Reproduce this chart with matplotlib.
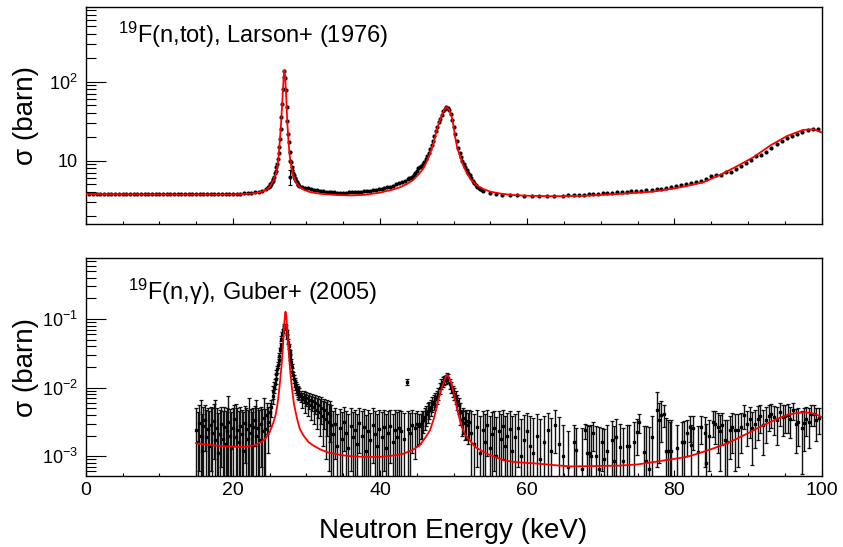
import numpy as np
import matplotlib
matplotlib.use('Agg')
import matplotlib.pyplot as plt
from matplotlib.ticker import MultipleLocator, LogLocator, NullFormatter

plt.rcParams['font.family'] = ['Liberation Sans', 'DejaVu Sans']
plt.rcParams['mathtext.fontset'] = 'custom'
plt.rcParams['mathtext.rm'] = 'Liberation Sans'
plt.rcParams['mathtext.it'] = 'Liberation Sans:italic'
plt.rcParams['mathtext.default'] = 'regular'

# ---- 19F(n,tot), Larson+ (1976): data (barn) ----
tot_e_flat = [0.5, 1.0, 1.5, 2.0, 2.5, 3.0, 3.5, 4.0, 4.5, 5.0, 5.5, 6.0, 6.5, 7.0, 7.5, 8.0,
              8.5, 9.0, 9.5, 10.0, 10.5, 11.0, 11.5, 12.0, 12.5, 13.0, 13.5, 14.0, 14.5, 15.0,
              15.5, 16.0, 16.5, 17.0, 17.5, 18.0, 18.5, 19.0, 19.5, 20.0, 20.5, 21.0, 21.5,
              22.0, 22.5, 23.0, 23.5, 24.0, 24.5]
tot_y_flat = [3.80, 3.79, 3.81, 3.80, 3.78, 3.79, 3.80, 3.78, 3.77, 3.79, 3.78, 3.77, 3.78,
              3.76, 3.77, 3.78, 3.76, 3.77, 3.76, 3.78, 3.77, 3.76, 3.78, 3.77, 3.76, 3.77,
              3.78, 3.76, 3.77, 3.78, 3.77, 3.76, 3.78, 3.77, 3.78, 3.79, 3.78, 3.79, 3.80,
              3.80, 3.81, 3.83, 3.85, 3.88, 3.92, 3.98, 4.06, 4.18, 4.40]
tot_e_pk1 = [24.8, 24.9, 25.0, 25.1, 25.2, 25.3, 25.4, 25.5, 25.6, 25.7, 25.8, 25.9, 26.0,
             26.1, 26.2, 26.3, 26.4, 26.5, 26.6, 26.7, 26.8, 26.9, 27.0, 27.1, 27.2, 27.3,
             27.4, 27.5, 27.6, 27.7, 27.8, 27.9, 28.0, 28.1, 28.2, 28.3, 28.4, 28.5, 28.6,
             28.7, 28.8, 28.9, 29.0]
tot_y_pk1 = [4.6, 4.7, 4.8, 5.0, 5.1, 5.4, 5.6, 5.9, 6.3, 6.9, 7.4, 8.3, 9.2, 10.5, 12.5, 15,
             19, 25, 36, 52, 80, 115, 138, 110, 78, 48, 32, 22, 17, 13, 10.0, 9.5, 8.3, 7.6,
             7.0, 6.5, 6.1, 5.8, 5.5, 5.3, 5.1, 4.95, 4.85]
tot_e_mid = [29.4, 29.8, 30.2, 30.6, 31.0, 31.4, 31.8, 32.2, 32.6, 33.0, 33.4, 33.8, 34.2,
             34.6, 35.0, 35.4, 35.8, 36.2, 36.6, 37.0, 37.4, 37.8, 38.2, 38.6, 39.0, 39.4,
             39.8, 40.2, 40.6, 41.0, 41.4, 41.8, 42.2, 42.6, 43.0, 43.4, 43.8]
tot_y_mid = [4.7, 4.55, 4.45, 4.35, 4.25, 4.2, 4.12, 4.08, 4.03, 4.0, 3.98, 3.96, 3.95, 3.94,
             3.95, 3.95, 3.96, 3.98, 4.0, 4.02, 4.05, 4.08, 4.12, 4.17, 4.22, 4.28, 4.34,
             4.4, 4.5, 4.58, 4.68, 4.8, 5.0, 5.15, 5.35, 5.6, 5.9]
tot_e_pk2 = [44.0, 44.2, 44.4, 44.6, 44.8, 45.0, 45.2, 45.4, 45.6, 45.8, 46.0, 46.2, 46.4,
             46.6, 46.8, 47.0, 47.2, 47.4, 47.6, 47.8, 48.0, 48.2, 48.4, 48.6, 48.8, 49.0,
             49.2, 49.4, 49.6, 49.8, 50.0, 50.2, 50.4, 50.6, 50.8, 51.0, 51.2, 51.4, 51.6,
             51.8, 52.0, 52.2, 52.4, 52.6, 52.8, 53.0, 53.2, 53.4, 53.6, 53.8, 54.0]
tot_y_pk2 = [6.0, 6.1, 6.3, 6.6, 7.0, 7.5, 8.0, 8.3, 8.6, 9.0, 9.6, 10.4, 11.4, 12.6, 14.0,
             15.8, 18.0, 20.5, 23.5, 27, 30.5, 34, 38, 42, 45.5, 47.5, 47, 44, 39, 33, 27,
             21.5, 17.5, 14.5, 12.5, 11.0, 10.0, 9.2, 8.4, 7.6, 7.0, 6.5, 6.0, 5.6, 5.2, 4.9,
             4.65, 4.5, 4.35, 4.25, 4.15]
tot_e_high = [55.0, 55.8, 56.6, 57.6, 58.6, 59.5, 60.6, 61.6, 62.7, 63.7, 64.8, 65.6, 66.3,
              67.0, 67.7, 68.4, 69.0, 69.6, 70.3, 70.9, 71.5, 72.2, 72.9, 73.5, 74.1, 74.8,
              75.4, 76.1, 76.9, 77.6, 78.2, 78.9, 79.6, 80.2, 80.9, 81.6, 82.3, 82.9, 83.6,
              84.3, 85.0, 85.6, 86.3, 87.0, 87.7, 88.4, 89.0, 89.7, 90.4, 91.1, 91.8, 92.5,
              93.2, 93.9, 94.6, 95.3, 96.0, 96.7, 97.4, 98.1, 98.8, 99.5]
tot_y_high = [3.9, 3.78, 3.72, 3.66, 3.64, 3.62, 3.60, 3.58, 3.60, 3.58, 3.62, 3.66, 3.68,
              3.70, 3.72, 3.76, 3.80, 3.82, 3.87, 3.89, 3.94, 3.98, 4.02, 4.06, 4.10, 4.14,
              4.18, 4.22, 4.28, 4.36, 4.44, 4.55, 4.66, 4.76, 4.88, 5.0, 5.15, 5.33, 5.55,
              5.92, 6.4, 6.6, 6.55, 7.26, 7.2, 7.9, 8.65, 9.3, 10.2, 11.5, 11.8, 13.0, 14.4,
              16.3, 17.7, 19.2, 20.6, 21.8, 23.3, 24.5, 25.4, 25.4]
tot_rel_err = 0.025
tot_odd_e = [27.75]
tot_odd_y = [6.3]
tot_odd_err = [1.4]

# fit curve, total
tot_fit_e = [0, 5, 10, 15, 20, 22, 23, 24, 24.5, 25, 25.5, 25.8, 26.0, 26.2, 26.4, 26.55,
             26.7, 26.8, 26.9, 27.0, 27.1, 27.2, 27.3, 27.4, 27.55, 27.7, 27.9, 28.2, 28.5,
             29.0, 29.6, 30.5, 32, 34, 36, 38, 40, 41.5, 42.7, 43.7, 44.5, 45.3, 45.9, 46.4,
             46.8, 47.3, 47.7, 48.1, 48.4, 48.7, 49.05, 49.4, 49.75, 50.0, 50.2, 50.5, 50.9,
             51.3, 51.8, 52.4, 53.1, 54, 55, 56.5, 58, 60, 63.6, 68, 72.6, 77, 80, 82, 84,
             86.2, 88.5, 90.7, 93, 95.3, 97.5, 98.9, 100]
tot_fit_y = [3.78, 3.76, 3.74, 3.73, 3.74, 3.80, 3.88, 4.05, 4.25, 4.7, 5.6, 6.7, 7.8, 11,
             19, 30, 52, 78, 112, 140, 115, 80, 50, 30, 18, 12, 8.8, 6.6, 5.5, 4.7, 4.3,
             4.0, 3.8, 3.68, 3.63, 3.7, 3.94, 4.25, 4.6, 5.1, 5.7, 6.8, 8.0, 10, 12.4, 17,
             24.5, 32, 37.8, 44, 48, 44, 36, 27, 20, 14.5, 11.2, 8.8, 6.9, 5.7, 4.9, 4.4,
             4.05, 3.82, 3.68, 3.6, 3.55, 3.6, 3.8, 4.05, 4.45, 4.85, 5.35, 6.6, 8.5, 11.0,
             15.5, 20.5, 24.5, 25.0, 22.8]

# ---- 19F(n,gamma), Guber+ (2005): data in 1e-3 barn ----
cap_e1 = [15.0, 15.2, 15.4, 15.6, 15.8, 16.0, 16.2, 16.4, 16.6, 16.8, 17.0, 17.2, 17.4, 17.6,
          17.8, 18.0, 18.2, 18.4, 18.6, 18.8, 19.0, 19.2, 19.4, 19.6, 19.8, 20.0, 20.2, 20.4,
          20.6, 20.8, 21.0, 21.2, 21.4, 21.6, 21.8, 22.0, 22.2, 22.4, 22.6, 22.8, 23.0, 23.2,
          23.4, 23.6, 23.8, 24.0, 24.2, 24.4, 24.6, 24.8, 25.0, 25.2]
cap_y1 = [2.4, 1.6, 3.1, 2.0, 1.2, 2.8, 3.4, 1.9, 2.5, 1.4, 2.9, 2.2, 3.3, 1.7, 2.6, 1.1, 2.1,
          3.0, 1.8, 2.7, 1.5, 2.3, 3.2, 2.0, 1.3, 2.6, 3.5, 1.9, 2.4, 1.6, 2.8, 2.1, 1.2, 3.1,
          2.5, 1.8, 2.9, 2.2, 1.4, 2.7, 3.4, 2.0, 2.6, 1.7, 3.0, 2.3, 3.6, 2.5, 4.0, 3.2, 4.4,
          5.2]
cap_d1 = [2.6, 2.8, 2.5, 4.5, 3.0, 2.4, 2.2, 2.9, 2.6, 3.1, 2.3, 2.8, 2.4, 4.8, 2.5, 3.2, 2.7,
          2.3, 2.8, 2.6, 3.0, 2.7, 4.4, 2.9, 3.1, 2.5, 2.1, 3.9, 2.6, 3.0, 2.4, 2.7, 3.2, 2.3,
          2.5, 2.9, 4.2, 2.7, 3.0, 2.4, 2.0, 4.6, 2.5, 3.0, 2.3, 2.6, 3.5, 2.4, 1.9, 2.1, 1.6,
          1.5]
cap_e2 = [25.4, 25.5, 25.6, 25.7, 25.8, 25.9, 26.0, 26.1, 26.2, 26.3, 26.4, 26.5, 26.6, 26.7,
          26.8, 26.9, 27.0, 27.1, 27.2, 27.3, 27.4, 27.5, 27.6, 27.7, 27.8, 27.9, 28.0, 28.1,
          28.2, 28.3, 28.4, 28.5, 28.6, 28.7, 28.8, 28.9, 29.0]
cap_y2 = [7.5, 8.8, 10.3, 11.5, 13.5, 16, 18.5, 21.5, 25, 29, 35, 42, 52, 60, 68, 75, 80, 81,
          76, 65, 55, 47, 40, 33, 28, 24, 20, 17, 15.2, 13.6, 12.2, 11, 10.2, 9.5, 8.9, 8.5,
          8.2]
cap_d2 = [1.8, 1.9, 2.0, 2.0, 2.1, 2.2, 2.3, 2.4, 2.6, 2.8, 3.1, 3.4, 3.8, 4.2, 4.5, 4.8, 5.0,
          5.0, 4.9, 4.4, 4.0, 3.6, 3.3, 3.0, 2.7, 2.5, 2.3, 2.1, 2.0, 1.9, 1.8, 1.8, 1.7, 1.7,
          1.6, 1.6, 1.6]
cap_e3 = [29.2, 29.4, 29.6, 29.8, 30.0, 30.2, 30.4, 30.6, 30.8, 31.0, 31.2, 31.4, 31.6, 31.8,
          32.0, 32.2, 32.4, 32.6, 32.8, 33.0, 33.2, 33.4]
cap_y3 = [7.6, 6.8, 7.4, 6.2, 7.0, 5.9, 6.6, 5.5, 6.3, 5.2, 6.0, 4.8, 5.6, 4.4, 5.1, 3.9, 4.7,
          3.5, 4.3, 3.2, 4.0, 2.9]
cap_d3 = [1.4, 1.7, 1.5, 1.9, 1.6, 2.0, 1.7, 2.1, 1.8, 2.2, 1.9, 2.3, 2.0, 2.4, 2.1, 2.5, 2.2,
          2.6, 2.3, 2.6, 2.4, 2.7]
cap_e4 = [33.6, 33.9, 34.2, 34.5, 34.8, 35.1, 35.4, 35.7, 36.0, 36.3, 36.6, 36.9, 37.2, 37.5,
          37.8, 38.1, 38.4, 38.7, 39.0, 39.3, 39.6, 39.9, 40.2, 40.5, 40.8, 41.1, 41.4, 41.7,
          42.0, 42.3, 42.6, 42.9, 43.2, 43.6, 43.8, 44.1, 44.4, 44.7, 45.0]
cap_y4 = [2.1, 3.0, 1.4, 2.6, 1.8, 3.2, 2.2, 1.3, 2.8, 1.9, 2.4, 1.5, 3.1, 2.0, 2.7, 1.2, 2.3,
          1.7, 2.9, 2.1, 1.4, 2.5, 1.9, 2.7, 1.3, 2.2, 2.8, 1.6, 2.4, 1.9, 2.6, 2.3, 1.8, 12.2,
          2.5, 2.2, 2.9, 2.6, 3.0]
cap_d4 = [2.4, 2.1, 2.7, 2.3, 2.6, 2.0, 2.4, 2.8, 2.2, 2.5, 2.3, 2.7, 2.0, 2.5, 2.2, 2.8, 2.4,
          2.6, 2.1, 2.4, 2.7, 2.2, 2.5, 2.1, 2.8, 2.4, 2.0, 2.6, 2.3, 2.5, 2.1, 2.2, 2.5, 1.3,
          2.0, 2.1, 1.8, 1.7, 1.6]
cap_e5 = [45.3, 45.5, 45.7, 45.9, 46.1, 46.3, 46.5, 46.7, 46.9, 47.1, 47.3, 47.5, 47.7, 47.9,
          48.1, 48.3, 48.5, 48.7, 48.9, 49.1, 49.3, 49.5, 49.7, 49.9, 50.1, 50.3, 50.5, 50.7,
          50.9, 51.1, 51.3, 51.5, 51.7, 51.9, 52.1]
cap_y5 = [2.8, 3.0, 3.2, 3.4, 3.7, 4.1, 4.5, 4.8, 5.3, 5.8, 6.2, 6.8, 7.3, 8.2, 9.8, 11.5,
          12.2, 12.9, 13.5, 14.4, 13.8, 11.5, 10.2, 9.0, 8.2, 7.3, 6.3, 5.6, 4.4, 3.4, 3.6,
          3.1, 3.3, 2.9, 3.2]
cap_d5 = [1.3, 1.2, 1.4, 1.2, 1.3, 1.3, 1.4, 1.3, 1.4, 1.4, 1.5, 1.5, 1.6, 1.6, 1.8, 1.9, 1.9,
          2.0, 2.0, 2.1, 2.0, 1.9, 1.8, 1.7, 1.7, 1.6, 1.6, 1.5, 1.5, 1.4, 1.5, 1.4, 1.5, 1.4,
          1.5]
cap_e6 = [52.4, 52.8, 53.2, 53.6, 54.0, 54.3, 54.6, 54.9, 55.2, 55.5, 55.8, 56.1, 56.4, 56.7,
          57.0, 57.3, 57.6, 58.0, 58.4, 58.8, 59.2, 59.6, 60.0, 60.4, 60.8, 61.3, 61.8, 62.3,
          62.8, 63.3, 63.8, 64.3]
cap_y6 = [2.2, 1.5, 2.7, 1.1, 2.4, 1.6, 2.9, 1.3, 2.1, 2.6, 1.0, 2.3, 1.8, 2.8, 1.4, 2.0, 2.5,
          1.2, 1.9, 2.6, 1.0, 1.7, 2.3, 1.4, 1.1, 2.0, 0.9, 1.6, 2.4, 1.2, 2.9, 1.5]
cap_d6 = [2.3, 2.6, 2.0, 2.7, 2.2, 2.5, 1.9, 2.6, 2.3, 2.0, 2.7, 2.2, 2.4, 1.9, 2.5, 2.3, 2.0,
          2.6, 2.3, 1.9, 2.5, 2.3, 2.0, 2.4, 2.5, 2.1, 2.6, 2.2, 1.9, 2.4, 1.8, 2.2]
cap_e7 = [64.8, 65.5, 66.3, 66.7, 67.4, 67.8, 68.1, 68.4, 68.7, 69.0, 69.4, 69.7, 70.1, 70.5,
          70.9, 71.5, 71.8, 72.1, 72.6, 73.0, 73.6, 73.9, 74.5, 74.9, 75.2, 75.9, 76.1, 76.6,
          77.0, 77.7, 77.9, 78.2, 78.6, 78.8, 79.1, 79.4, 79.6, 80.3, 81.0, 81.3, 81.7, 82.1,
          82.3, 82.5, 83.2, 83.6, 84.1, 84.3, 84.7, 85.2, 85.5, 85.9, 86.2, 86.5, 86.9, 87.2,
          87.6, 87.9, 88.3, 88.6, 89.0, 89.4, 89.9, 90.3, 90.6, 91.0, 91.4, 91.7, 92.1, 92.5,
          92.9, 93.2, 93.6, 94.0, 94.3, 94.7, 95.0, 95.4, 95.7, 96.1, 96.5, 96.8, 97.3, 97.6,
          97.9, 98.3, 98.6, 99.0, 99.3, 99.7]
cap_y7 = [1.0, 0.7, 1.6, 1.25, 0.66, 2.4, 1.1, 1.1, 1.0, 2.2, 1.0, 0.66, 1.6, 0.9, 1.2, 1.7,
          0.85, 1.9, 1.35, 0.85, 1.4, 1.4, 1.6, 2.25, 3.15, 1.16, 0.85, 0.66, 1.9, 4.7, 3.4,
          4.0, 4.1, 1.2, 1.2, 1.2, 1.2, 1.3, 1.6, 1.6, 2.2, 2.7, 1.45, 2.55, 1.16, 2.7, 2.2,
          0.8, 2.0, 3.2, 3.0, 2.7, 2.3, 2.85, 1.7, 1.6, 2.4, 2.7, 2.4, 2.4, 2.7, 4.0, 3.0,
          3.55, 2.55, 3.0, 3.55, 3.9, 2.85, 3.36, 3.9, 4.2, 3.75, 3.36, 4.4, 3.75, 3.9, 4.0,
          3.55, 4.7, 3.0, 3.2, 2.55, 3.1, 3.55, 3.2, 4.2, 4.2, 3.36, 3.6]
cap_d7 = [1.9, 1.6, 1.3, 1.3, 1.9, 0.6, 1.8, 1.7, 1.9, 1.0, 1.8, 2.0, 1.0, 1.6, 1.7, 1.6, 1.9,
          1.6, 1.6, 1.7, 1.5, 1.5, 1.6, 1.2, 1.0, 1.6, 1.9, 2.0, 2.0, 4.0, 2.6, 2.4, 1.4, 2.4,
          2.2, 2.0, 2.2, 1.6, 1.6, 1.7, 1.2, 1.1, 1.4, 1.3, 1.6, 1.2, 1.5, 2.2, 1.4, 1.3, 1.5,
          1.6, 1.7, 1.4, 1.7, 1.8, 1.5, 1.6, 1.8, 1.7, 1.6, 1.5, 1.6, 1.7, 1.8, 1.7, 1.8, 1.7,
          1.8, 1.8, 1.6, 1.6, 1.7, 1.9, 1.6, 1.8, 1.7, 1.8, 1.7, 1.3, 1.9, 1.8, 2.0, 1.9, 1.6,
          1.9, 1.4, 1.4, 1.7, 1.5]

# fit curve, capture (in 1e-3 barn)
cap_fit_e = [15, 16, 17, 18, 19, 20, 21, 22, 23, 24, 24.5, 25, 25.5, 25.8, 26.0, 26.2, 26.4,
             26.6, 26.75, 26.9, 27.0, 27.1, 27.15, 27.25, 27.35, 27.5, 27.65, 27.8, 28.0,
             28.3, 28.7, 29.1, 29.6, 30.3, 31, 32, 33, 34.5, 36, 38, 40, 42, 43.2, 44.5,
             45.4, 46.2, 46.8, 47.4, 47.9, 48.3, 48.7, 49.0, 49.15, 49.4, 49.7, 50.0, 50.4,
             50.7, 51.1, 51.6, 52.2, 53.0, 54.5, 56.8, 58.5, 61.4, 65.8, 69, 72.6, 75, 77.1,
             79.5, 81.7, 83.5, 85.3, 87, 88.5, 90.3, 92.1, 93.7, 95.3, 96.5, 97.5, 98.5,
             99.3, 100]
cap_fit_y = [1.55, 1.50, 1.45, 1.42, 1.40, 1.38, 1.37, 1.38, 1.45, 1.65, 1.85, 2.25, 3.1,
             4.0, 5.2, 7.5, 12, 20, 33, 60, 90, 120, 128, 115, 82, 45, 27, 17, 10.5, 5.8,
             3.6, 2.5, 2.0, 1.6, 1.42, 1.24, 1.13, 1.05, 1.0, 0.98, 0.98, 1.03, 1.09, 1.25,
             1.45, 1.9, 2.4, 3.8, 6.6, 9.2, 12.4, 14.8, 15.2, 14.0, 11.5, 8.5, 5.3, 3.9, 2.7,
             2.05, 1.7, 1.35, 1.09, 0.87, 0.82, 0.78, 0.71, 0.72, 0.73, 0.76, 0.82, 0.9,
             0.98, 1.12, 1.3, 1.52, 1.8, 2.25, 2.84, 3.4, 4.0, 4.25, 4.35, 4.3, 4.05, 3.75]

tot_e = np.array(tot_e_flat + tot_e_pk1 + tot_e_mid + tot_e_pk2 + tot_e_high)
tot_y = np.array(tot_y_flat + tot_y_pk1 + tot_y_mid + tot_y_pk2 + tot_y_high)

cap_e = np.array(cap_e1 + cap_e2 + cap_e3 + cap_e4 + cap_e5 + cap_e6 + cap_e7)
cap_y = np.array(cap_y1 + cap_y2 + cap_y3 + cap_y4 + cap_y5 + cap_y6 + cap_y7) * 1e-3
cap_d = np.array(cap_d1 + cap_d2 + cap_d3 + cap_d4 + cap_d5 + cap_d6 + cap_d7) * 1e-3
cap_lo = np.where(cap_d >= cap_y, cap_y - 1e-7, cap_d)

fig = plt.figure(figsize=(8.43, 5.47), dpi=100)
ax1 = fig.add_axes([0.1017, 0.5905, 0.8728, 0.3973])
ax2 = fig.add_axes([0.1017, 0.1303, 0.8728, 0.3975])

# top panel
ax1.errorbar(tot_e, tot_y, yerr=tot_rel_err * tot_y, fmt='o', ms=2.0, color='k',
             elinewidth=0.7, capsize=0, zorder=2)
ax1.errorbar(tot_odd_e, tot_odd_y, yerr=tot_odd_err, fmt='o', ms=2.0, color='k',
             elinewidth=0.8, capsize=1.5, capthick=0.8, zorder=2)
ax1.plot(tot_fit_e, tot_fit_y, color='#ff0000', lw=1.3, zorder=3)
ax1.set_yscale('log')
ax1.set_ylim(1.58, 890)
ax1.set_yticks([10, 100], ['10', '$10^{2}$'])
ax1.text(0.044, 0.833, '$^{19}$F(n,tot), Larson+ (1976)', transform=ax1.transAxes,
         fontsize=17, va='baseline', ha='left')

# bottom panel
ax2.errorbar(cap_e, cap_y, yerr=[cap_lo, cap_d], fmt='s', ms=1.8, color='k', ecolor='#111111',
             elinewidth=1.0, capsize=1.3, capthick=0.9, zorder=2)
ax2.plot(cap_fit_e, np.array(cap_fit_y) * 1e-3, color='#ff0000', lw=1.3, zorder=3)
ax2.set_yscale('log')
ax2.set_ylim(5.2e-4, 0.77)
ax2.set_yticks([1e-3, 1e-2, 1e-1], ['$10^{-3}$', '$10^{-2}$', '$10^{-1}$'])
ax2.text(0.0575, 0.808, '$^{19}$F(n,γ), Guber+ (2005)', transform=ax2.transAxes,
         fontsize=17, va='baseline', ha='left')
ax2.set_xlabel('Neutron Energy (keV)', fontsize=20)
ax2.xaxis.set_label_coords(0.5, -0.193)

for ax in (ax1, ax2):
    ax.set_xlim(0, 100)
    ax.xaxis.set_major_locator(MultipleLocator(20))
    ax.xaxis.set_minor_locator(MultipleLocator(5))
    ax.yaxis.set_minor_locator(LogLocator(base=10, subs=np.arange(2, 10)))
    ax.yaxis.set_minor_formatter(NullFormatter())
    ax.tick_params(which='both', direction='in', top=False, right=False)
    ax.tick_params(axis='x', which='major', length=4.3, width=0.8, labelsize=14, pad=4.5)
    ax.tick_params(axis='x', which='minor', length=2.2, width=0.8)
    ax.tick_params(axis='y', which='major', length=14.5, width=0.8, labelsize=13, pad=5.5)
    ax.tick_params(axis='y', which='minor', length=7.5, width=0.8)
    for s in ax.spines.values():
        s.set_linewidth(1.0)
    ax.set_ylabel('σ (barn)', fontsize=20)
    ax.yaxis.set_label_coords(-0.0635, 0.5)

ax1.tick_params(axis='x', labelbottom=False)

fig.savefig('out.png', dpi=100)
